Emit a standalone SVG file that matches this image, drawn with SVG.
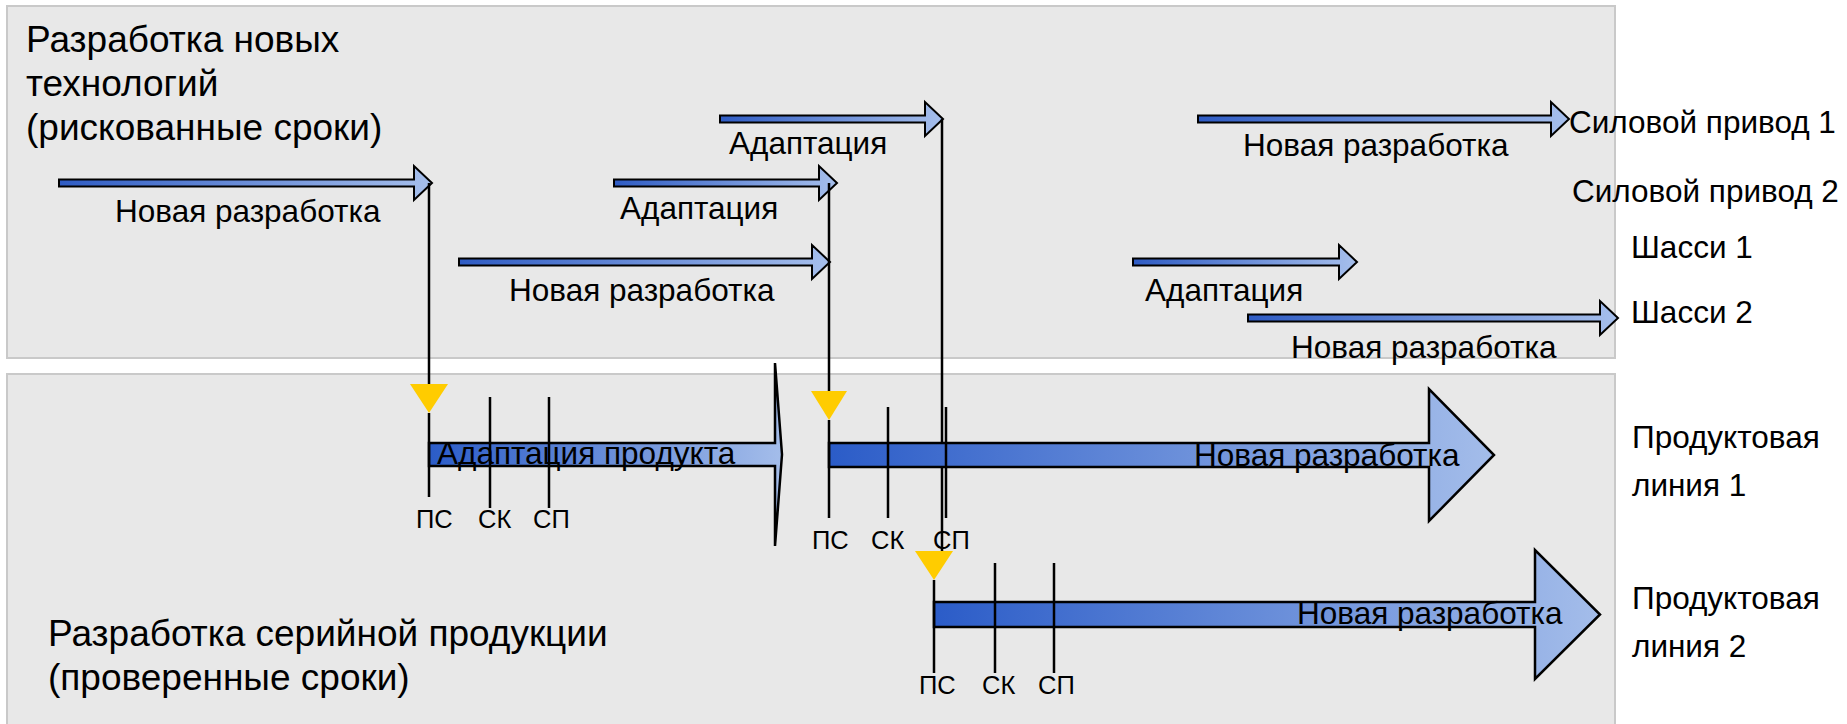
<svg xmlns="http://www.w3.org/2000/svg" width="1847" height="724" viewBox="0 0 1847 724">
<defs>
<linearGradient id="gThin" x1="0" y1="0" x2="1" y2="0">
<stop offset="0" stop-color="#2f5cc4"/>
<stop offset="1" stop-color="#a6bfec"/>
</linearGradient>
<linearGradient id="gBig" x1="0" y1="0" x2="1" y2="0">
<stop offset="0" stop-color="#2b5cc8"/>
<stop offset="1" stop-color="#a4bdea"/>
</linearGradient>
<style>
.panel{fill:#e8e8e8;stroke:#c9c9c9;stroke-width:2}
.thin{fill:url(#gThin);stroke:#000;stroke-width:2;stroke-linejoin:miter}
.big{fill:url(#gBig);stroke:#000;stroke-width:2.5;stroke-linejoin:miter}
.tri{fill:#ffcc00;stroke:none}
.ln{stroke:#000;stroke-width:2.5;fill:none}
text{font-family:"Liberation Sans",Arial,sans-serif;fill:#000}
.t1{font-size:37px}
.t2{font-size:31.5px}
.t3{font-size:25.5px}
</style>
</defs>
<rect width="1847" height="724" fill="#ffffff"/>
<g id="panel-top">
<rect class="panel" x="7" y="6" width="1608" height="352"/>
<text class="t1" x="26" y="52">Разработка новых</text>
<text class="t1" x="26" y="96">технологий</text>
<text class="t1" x="26" y="140">(рискованные сроки)</text>
</g>
<g id="panel-bottom">
<rect class="panel" x="7" y="374" width="1608" height="360"/>
<text class="t1" x="48" y="646">Разработка серийной продукции</text>
<text class="t1" x="48" y="690">(проверенные сроки)</text>
</g>
<g id="row-labels">
<text class="t2" x="1569" y="133">Силовой привод 1</text>
<text class="t2" x="1572" y="202">Силовой привод 2</text>
<text class="t2" x="1631" y="258">Шасси 1</text>
<text class="t2" x="1631" y="323">Шасси 2</text>
<text class="t2" x="1632" y="448">Продуктовая</text>
<text class="t2" x="1632" y="496">линия 1</text>
<text class="t2" x="1632" y="609">Продуктовая</text>
<text class="t2" x="1632" y="657">линия 2</text>
</g>
<g id="n1">
<path class="thin" d="M59,179.5 L414,179.5 L414,166 L432,183 L414,200 L414,186.5 L59,186.5 Z"/>
<text class="t2" x="115" y="222">Новая разработка</text>
</g>
<g id="a1">
<path class="thin" d="M720,115.5 L925,115.5 L925,102 L943,119 L925,136 L925,122.5 L720,122.5 Z"/>
<text class="t2" x="729" y="154">Адаптация</text>
</g>
<g id="a2">
<path class="thin" d="M614,179.5 L819,179.5 L819,166 L837,183 L819,200 L819,186.5 L614,186.5 Z"/>
<text class="t2" x="620" y="219">Адаптация</text>
</g>
<g id="n2">
<path class="thin" d="M459,258.5 L812,258.5 L812,245 L830,262 L812,279 L812,265.5 L459,265.5 Z"/>
<text class="t2" x="509" y="301">Новая разработка</text>
</g>
<g id="n3">
<path class="thin" d="M1198,115.5 L1551,115.5 L1551,102 L1569,119 L1551,136 L1551,122.5 L1198,122.5 Z"/>
<text class="t2" x="1243" y="156">Новая разработка</text>
</g>
<g id="a3">
<path class="thin" d="M1133,258.5 L1339,258.5 L1339,245 L1357,262 L1339,279 L1339,265.5 L1133,265.5 Z"/>
<text class="t2" x="1145" y="301">Адаптация</text>
</g>
<g id="n4">
<path class="thin" d="M1248,314.5 L1600,314.5 L1600,301 L1618,318 L1600,335 L1600,321.5 L1248,321.5 Z"/>
<text class="t2" x="1291" y="358">Новая разработка</text>
</g>
<g id="connectors">
<line class="ln" x1="429" y1="183" x2="429" y2="386"/>
<line class="ln" x1="829" y1="183" x2="829" y2="393"/>
<line class="ln" x1="942" y1="119" x2="942" y2="553"/>
</g>
<g id="line1-adapt">
<path class="big" d="M429,443 L775,443 L775,363 L782,454.5 L775,546 L775,466 L429,466 Z"/>
<text class="t2" x="437" y="464">Адаптация продукта</text>
<polygon class="tri" points="410,384 448,384 429,413"/>
<line class="ln" x1="429" y1="413" x2="429" y2="497"/>
<line class="ln" x1="490" y1="397" x2="490" y2="508"/>
<line class="ln" x1="549" y1="397" x2="549" y2="508"/>
<text class="t3" x="416" y="528">ПС</text>
<text class="t3" x="478" y="528">СК</text>
<text class="t3" x="533" y="528">СП</text>
</g>
<g id="line1-new">
<path class="big" d="M829,443 L1429,443 L1429,389 L1494,455 L1429,521 L1429,467 L829,467 Z"/>
<text class="t2" x="1194" y="466">Новая разработка</text>
<polygon class="tri" points="811,391 847,391 829,420"/>
<line class="ln" x1="829" y1="420" x2="829" y2="518"/>
<line class="ln" x1="888" y1="407" x2="888" y2="518"/>
<line class="ln" x1="946" y1="407" x2="946" y2="518"/>
<text class="t3" x="812" y="549">ПС</text>
<text class="t3" x="871" y="549">СК</text>
<text class="t3" x="933" y="549">СП</text>
</g>
<g id="line2-new">
<path class="big" d="M934,602 L1535,602 L1535,550 L1600,614.5 L1535,679 L1535,627 L934,627 Z"/>
<text class="t2" x="1297" y="624">Новая разработка</text>
<polygon class="tri" points="915,551 953,551 934,580"/>
<line class="ln" x1="934" y1="580" x2="934" y2="673"/>
<line class="ln" x1="995" y1="563" x2="995" y2="673"/>
<line class="ln" x1="1054" y1="563" x2="1054" y2="673"/>
<text class="t3" x="919" y="694">ПС</text>
<text class="t3" x="982" y="694">СК</text>
<text class="t3" x="1038" y="694">СП</text>
</g>
</svg>
